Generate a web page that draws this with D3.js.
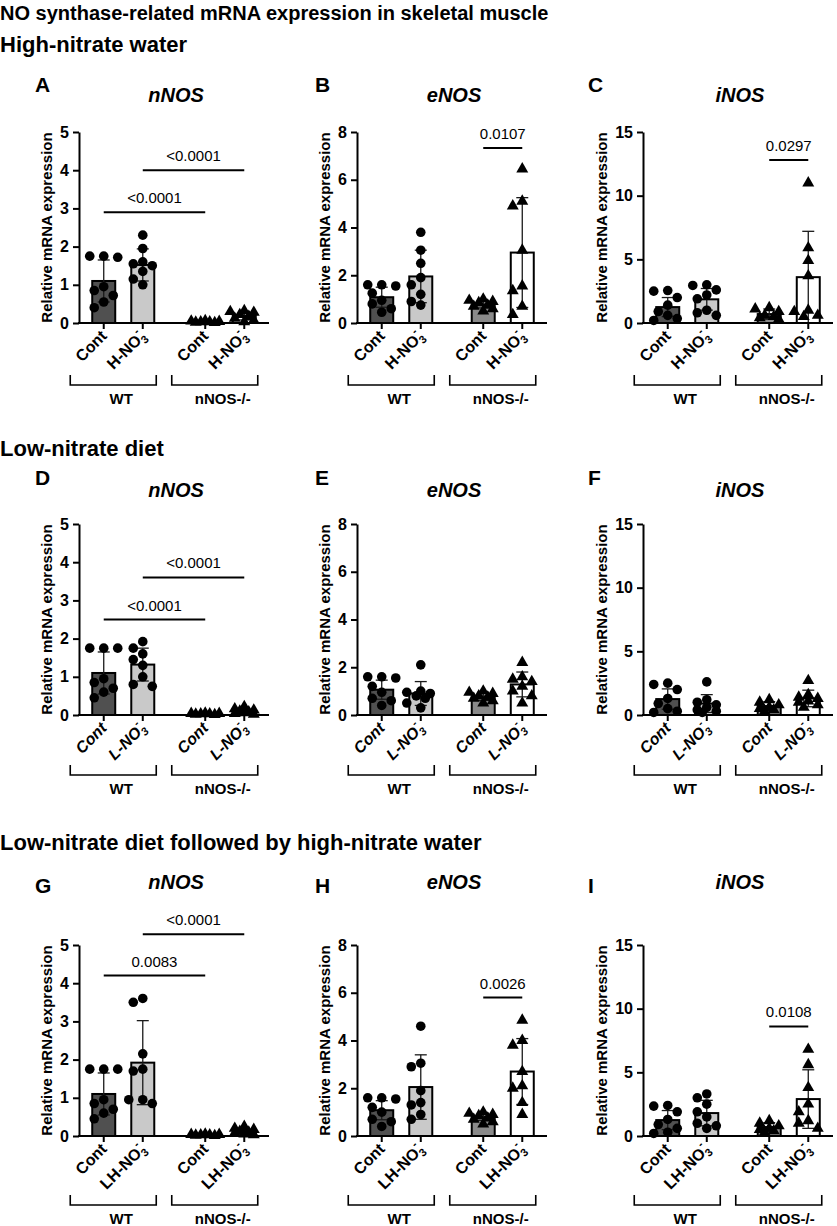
<!DOCTYPE html>
<html>
<head>
<meta charset="utf-8">
<script src="https://cdn.jsdelivr.net/npm/d3@7"></script>
<style>
  body { margin: 0; background: #fff; }
  text { font-family: "Liberation Sans", Arial, sans-serif; }
</style>
</head>
<body>
<svg id="fig" width="837" height="1226"></svg>
<script>
// ---- data ----
const genotypes = ['WT', 'nNOS-/-'];
const conditions = ['Cont', 'NO3'];
const genes = ['nNOS', 'eNOS', 'iNOS'];
const yMax = [5, 8, 15];
const yTicks = [[0, 1, 2, 3, 4, 5], [0, 2, 4, 6, 8], [0, 5, 10, 15]];
const sections = ['High-nitrate water', 'Low-nitrate diet', 'Low-nitrate diet followed by high-nitrate water'];
const treatPrefix = ['H', 'L', 'LH'];
const letters = ['A', 'B', 'C', 'D', 'E', 'F', 'G', 'H', 'I'];

// points per group: WT Cont, WT NO3, nNOS-/- Cont, nNOS-/- NO3
const ptsA = [[1.75, 1.75, 1.72, 0.95, 0.85, 0.72, 0.55, 0.4], [2.3, 1.95, 1.6, 1.55, 1.5, 1.35, 1.15, 1.0], [0.06, 0.05, 0.04, 0.03, 0.03, 0.02, 0.01], [0.32, 0.3, 0.28, 0.22, 0.17, 0.12, 0.07, 0.03]];
const ptsB = [[1.6, 1.6, 1.55, 1.25, 0.95, 0.8, 0.6, 0.45], [3.8, 3.05, 2.5, 1.9, 1.6, 1.2, 0.9, 0.75], [1.0, 0.95, 0.9, 0.85, 0.75, 0.7, 0.6, 0.5], [6.45, 5.1, 4.9, 3.05, 1.55, 1.35, 0.7, 0.35]];
const ptsC = [[2.55, 2.5, 2.0, 1.4, 0.9, 0.6, 0.35, 0.2], [3.0, 2.95, 2.6, 2.2, 1.9, 1.0, 0.8, 0.6], [1.2, 1.1, 0.9, 0.6, 0.5, 0.4, 0.3], [11.0, 5.9, 4.9, 3.7, 1.0, 0.9, 0.6, 0.5]];
const ptsD = [[1.75, 1.75, 1.75, 0.95, 0.85, 0.7, 0.6, 0.45], [1.92, 1.75, 1.6, 1.45, 1.3, 1.0, 0.8, 0.75], [0.05, 0.04, 0.04, 0.03, 0.03, 0.02, 0.01], [0.22, 0.16, 0.13, 0.1, 0.08, 0.06, 0.04, 0.02]];
const ptsE = [[1.6, 1.6, 1.55, 1.2, 0.95, 0.7, 0.6, 0.4], [2.1, 1.0, 0.95, 0.9, 0.8, 0.7, 0.5, 0.3], [1.0, 0.95, 0.9, 0.8, 0.75, 0.7, 0.6, 0.5], [2.2, 1.6, 1.5, 1.4, 1.2, 1.0, 0.8, 0.5]];
const ptsF = [[2.5, 2.4, 2.0, 1.3, 0.9, 0.5, 0.3, 0.2], [2.6, 1.2, 1.0, 0.8, 0.6, 0.4, 0.3, 0.2], [1.2, 1.0, 0.8, 0.6, 0.5, 0.4, 0.3], [2.7, 1.6, 1.4, 1.3, 1.1, 1.0, 0.8, 0.6]];
const ptsG = [[1.75, 1.75, 1.75, 0.95, 0.85, 0.7, 0.6, 0.45], [3.6, 3.5, 2.15, 1.75, 1.7, 0.95, 0.95, 0.85], [0.05, 0.04, 0.04, 0.03, 0.03, 0.02, 0.01], [0.25, 0.2, 0.17, 0.12, 0.1, 0.08, 0.05, 0.03]];
const ptsH = [[1.6, 1.6, 1.55, 1.2, 1.0, 0.7, 0.6, 0.4], [4.6, 3.05, 2.9, 1.9, 1.4, 1.3, 0.9, 0.7], [1.0, 0.95, 0.9, 0.85, 0.75, 0.7, 0.6, 0.5], [4.85, 4.0, 3.8, 2.7, 2.1, 2.0, 1.4, 0.9]];
const ptsI = [[2.4, 2.35, 1.9, 1.3, 0.9, 0.6, 0.3, 0.2], [3.3, 3.0, 2.5, 1.9, 1.5, 1.0, 0.8, 0.6], [1.2, 1.0, 0.8, 0.6, 0.5, 0.4, 0.3], [6.8, 5.6, 3.8, 2.5, 1.9, 1.2, 1.0, 0.6]];

const meanA = [1.1, 1.52, 0.03, 0.19], sdA = [0.55, 0.42, 0.02, 0.11];
const meanB = [1.08, 1.95, 0.78, 2.95], sdB = [0.42, 1.1, 0.15, 2.3];
const meanC = [1.25, 1.86, 0.7, 3.6], sdC = [0.75, 0.85, 0.4, 3.6];
const meanD = [1.1, 1.32, 0.03, 0.1], sdD = [0.55, 0.43, 0.015, 0.06];
const meanE = [1.06, 0.9, 0.78, 1.28], sdE = [0.4, 0.5, 0.17, 0.52];
const meanF = [1.25, 0.9, 0.7, 1.3], sdF = [0.8, 0.7, 0.35, 0.65];
const meanG = [1.1, 1.92, 0.03, 0.12], sdG = [0.55, 1.1, 0.015, 0.07];
const meanH = [1.08, 2.05, 0.8, 2.7], sdH = [0.4, 1.35, 0.15, 1.38];
const meanI = [1.25, 1.8, 0.7, 2.9], sdI = [0.75, 1.0, 0.35, 2.3];

// [group from, group to, y value, p label]
const sigA = [[0, 2, 2.9, '<0.0001'], [1, 3, 4.0, '<0.0001']];
const sigB = [[2, 3, 7.33, '0.0107']];
const sigC = [[2, 3, 12.8, '0.0297']];
const sigD = [[0, 2, 2.5, '<0.0001'], [1, 3, 3.6, '<0.0001']];
const sigE = [];
const sigF = [];
const sigG = [[0, 2, 4.2, '0.0083'], [1, 3, 5.28, '<0.0001']];
const sigH = [[2, 3, 5.8, '0.0026']];
const sigI = [[2, 3, 8.6, '0.0108']];

const allPts = [ptsA, ptsB, ptsC, ptsD, ptsE, ptsF, ptsG, ptsH, ptsI];
const allMeans = [meanA, meanB, meanC, meanD, meanE, meanF, meanG, meanH, meanI];
const allSds = [sdA, sdB, sdC, sdD, sdE, sdF, sdG, sdH, sdI];
const allSigs = [sigA, sigB, sigC, sigD, sigE, sigF, sigG, sigH, sigI];

// ---- layout ----
const svg = d3.select('#fig');
const axisX = [79, 357, 643];
const letterX = [35, 315, 588];
const rowY0 = [323, 715, 1136];
const sectionY = [52, 456, 850];
const letterY = [92, 485, 893];
const titleY = [102, 497, 889];
const bracketOff = [62, 60, 69];
const plotH = 191, plotW = 190, barW = 23;
const fills = ['#505050', '#c9c9c9', '#8a8a8a', '#ffffff'];

const xOuter = d3.scaleBand().domain(genotypes).range([0, plotW]).paddingInner(0.2).paddingOuter(0.036);
const xInner = d3.scalePoint().domain(conditions).range([0, xOuter.bandwidth()]).padding(0.54);
const groups = d3.cross(genotypes, conditions);
const cx = i => xOuter(groups[i][0]) + xInner(groups[i][1]);

svg.append('text').attr('x', 0).attr('y', 20)
  .style('font-size', '20px').style('font-weight', 'bold')
  .text('NO synthase-related mRNA expression in skeletal muscle');

sections.forEach((s, r) => {
  svg.append('text').attr('x', 0).attr('y', sectionY[r])
    .style('font-size', '22px').style('font-weight', 'bold').text(s);
});

// simple beeswarm so that points with equal values sit side by side
function swarm(vals, x0, y, r) {
  const placed = [];
  const cands = [0, -9.5, 9.5, -4.5, 4.5, -14, 14];
  return vals.map(v => {
    const py = y(v);
    let best = null, bestD = -1;
    for (const off of cands) {
      const px = x0 + off;
      const d = placed.length ? d3.min(placed, p => Math.hypot(p[0] - px, p[1] - py)) : Infinity;
      if (d >= 2 * r) { best = px; break; }
      if (Math.abs(off) <= 9.5 && d > bestD) { bestD = d; best = px; }
    }
    placed.push([best, py]);
    return [best, py];
  });
}

function drawPanel(row, col) {
  const k = row * 3 + col;
  const pts = allPts[k], means = allMeans[k], sds = allSds[k], sigs = allSigs[k];
  const g = svg.append('g').attr('transform', `translate(${axisX[col]},${rowY0[row] - plotH})`);
  const y = d3.scaleLinear().domain([0, yMax[col]]).range([plotH, 0]);

  svg.append('text').attr('x', letterX[col]).attr('y', letterY[row])
    .style('font-size', '21px').style('font-weight', 'bold').text(letters[k]);
  svg.append('text').attr('x', axisX[col] + 97).attr('y', titleY[row])
    .attr('text-anchor', 'middle')
    .style('font-size', '20px').style('font-weight', 'bold').style('font-style', 'italic')
    .text(genes[col]);

  // bars
  g.selectAll('.bar').data(means).join('rect')
    .attr('x', (d, i) => cx(i) - barW / 2)
    .attr('y', d => y(d))
    .attr('width', barW)
    .attr('height', d => plotH - y(d))
    .attr('fill', (d, i) => fills[i])
    .attr('stroke', '#000')
    .attr('stroke-width', 2);

  // error bars (mean ± SD)
  means.forEach((m, i) => {
    const top = y(m + sds[i]), bot = y(Math.max(0, m - sds[i]));
    const eb = g.append('g').attr('stroke', '#1a1a1a').attr('stroke-width', 1.3);
    eb.append('line').attr('x1', cx(i)).attr('x2', cx(i)).attr('y1', top).attr('y2', bot);
    eb.append('line').attr('x1', cx(i) - 6).attr('x2', cx(i) + 6).attr('y1', top).attr('y2', top);
    eb.append('line').attr('x1', cx(i) - 6).attr('x2', cx(i) + 6).attr('y1', bot).attr('y2', bot);
  });

  // individual animals
  pts.forEach((vals, i) => {
    const pos = swarm(vals, cx(i), y, 4.8);
    if (i < 2) {
      g.selectAll(null).data(pos).join('circle')
        .attr('cx', d => d[0]).attr('cy', d => d[1]).attr('r', 4.8).attr('fill', '#000');
    } else {
      g.selectAll(null).data(pos).join('path')
        .attr('transform', d => `translate(${d[0]},${d[1]})`)
        .attr('d', d3.symbol(d3.symbolTriangle, 62)).attr('fill', '#000');
    }
  });

  // y axis
  const yAx = g.append('g').call(d3.axisLeft(y).tickValues(yTicks[col]).tickFormat(d3.format('d'))
    .tickSize(6).tickSizeOuter(0).tickPadding(4));
  yAx.select('.domain').attr('stroke-width', 2);
  yAx.selectAll('.tick line').attr('stroke-width', 2);
  yAx.selectAll('.tick text').style('font-size', '16px').style('font-weight', 'bold')
    .style('font-family', '"Liberation Sans", Arial, sans-serif').attr('fill', '#000');
  const digits = String(yMax[col]).length;
  g.append('text')
    .attr('transform', `translate(${-(19 + 8.5 * digits)},${plotH / 2}) rotate(-90)`)
    .attr('text-anchor', 'middle')
    .style('font-size', '15px').style('font-weight', 'bold')
    .text('Relative mRNA expression');

  // x axis
  g.append('line').attr('x1', -1).attr('x2', plotW).attr('y1', plotH).attr('y2', plotH)
    .attr('stroke', '#000').attr('stroke-width', 2);
  groups.forEach((gr, i) => {
    g.append('line').attr('x1', cx(i)).attr('x2', cx(i)).attr('y1', plotH).attr('y2', plotH + 6)
      .attr('stroke', '#000').attr('stroke-width', 2);
    const t = g.append('text')
      .attr('transform', `translate(${cx(i) + 4},${plotH + 14}) rotate(-45)`)
      .attr('text-anchor', 'end')
      .style('font-size', '16px').style('font-weight', 'bold')
      .style('font-style', row === 1 ? 'italic' : 'normal');
    if (gr[1] === 'Cont') {
      t.text('Cont');
    } else {
      t.append('tspan').text(treatPrefix[row] + '-NO');
      t.append('tspan').attr('dy', 4).style('font-size', '11px').text('3');
      t.append('tspan').attr('dx', -5).attr('dy', -12).style('font-size', '11px').text('-');
    }
  });

  // genotype brackets
  const by = plotH + bracketOff[row];
  genotypes.forEach(gt => {
    const c = xOuter(gt) + xOuter.bandwidth() / 2 - 10;
    g.append('path')
      .attr('d', `M${c - 43},${by - 10}V${by}H${c + 43}V${by - 10}`)
      .attr('fill', 'none').attr('stroke', '#000').attr('stroke-width', 1.6);
    g.append('text').attr('x', c + 8).attr('y', by + 19)
      .attr('text-anchor', 'middle')
      .style('font-size', '15px').style('font-weight', 'bold').text(gt);
  });

  // p values
  sigs.forEach(s => {
    const sy = y(s[2]);
    g.append('line').attr('x1', cx(s[0])).attr('x2', cx(s[1])).attr('y1', sy).attr('y2', sy)
      .attr('stroke', '#000').attr('stroke-width', 2);
    g.append('text').attr('x', (cx(s[0]) + cx(s[1])) / 2).attr('y', sy - 9)
      .attr('text-anchor', 'middle').style('font-size', '15px').text(s[3]);
  });
}

for (let r = 0; r < 3; r++) {
  for (let c = 0; c < 3; c++) drawPanel(r, c);
}
</script>
</body>
</html>
